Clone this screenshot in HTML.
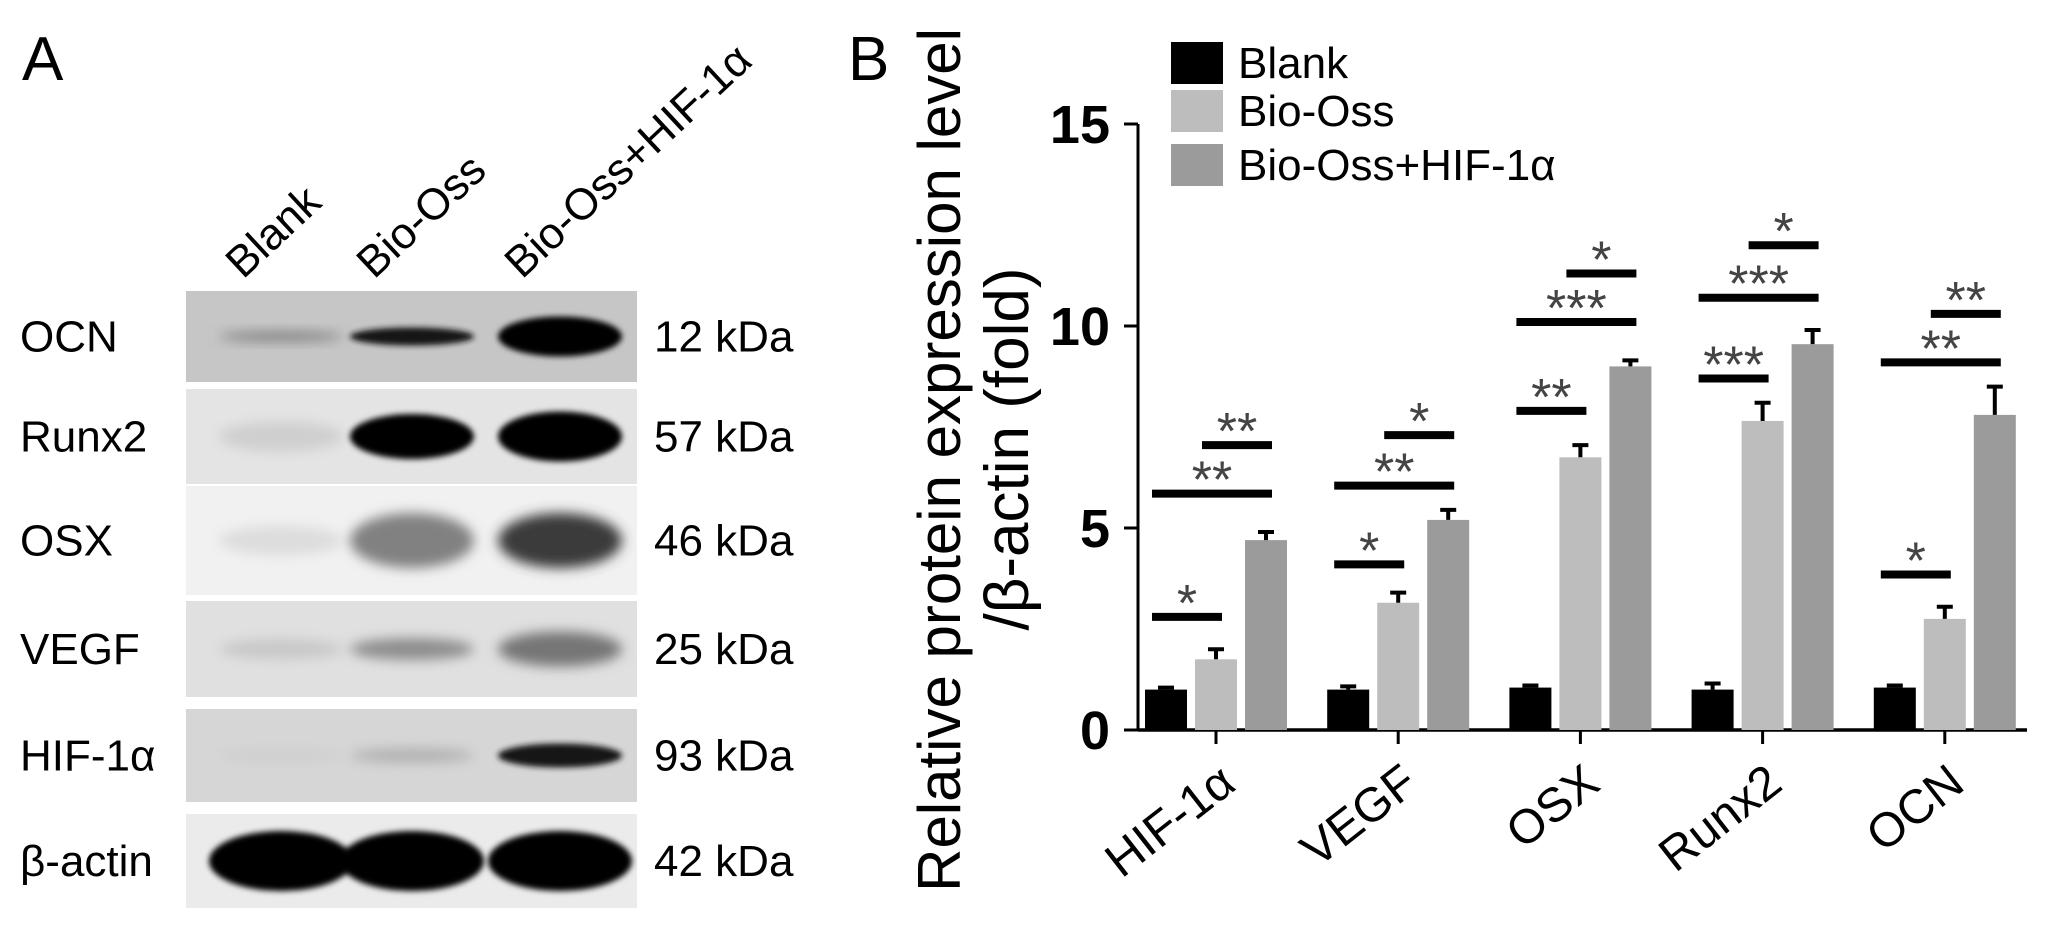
<!DOCTYPE html>
<html><head><meta charset="utf-8"><style>
html,body{margin:0;padding:0;background:#fff;}
svg{display:block;font-family:"Liberation Sans",Arial,sans-serif;}
</style></head><body>
<svg id="fig" width="2051" height="942" viewBox="0 0 2051 942" xmlns="http://www.w3.org/2000/svg">
<defs>
<filter id="blur" x="-30%" y="-80%" width="160%" height="260%"><feGaussianBlur stdDeviation="6"/></filter>
<filter id="blur2" x="-30%" y="-80%" width="160%" height="260%"><feGaussianBlur stdDeviation="3"/></filter>
</defs>
<text x="22" y="80" font-size="62">A</text>
<text x="848" y="80" font-size="62">B</text>
<g id="panelA"></g>
<g id="chart"></g>
</svg>
<script>
const NS="http://www.w3.org/2000/svg";
function mk(parent,tag,attrs,txt){const e=document.createElementNS(NS,tag);for(const k in attrs)e.setAttribute(k,attrs[k]);if(txt!==undefined)e.textContent=txt;parent.appendChild(e);return e;}

// ---------- Panel A (western blot) ----------
const lanes=["Blank","Bio-Oss","Bio-Oss+HIF-1α"];
const proteins=["OCN","Runx2","OSX","VEGF","HIF-1α","β-actin"];
const kdas=["12 kDa","57 kDa","46 kDa","25 kDa","93 kDa","42 kDa"];
const bandIntensity=[[0.35,0.9,1],[0.12,1,1],[0.06,0.45,0.75],[0.15,0.4,0.5],[0.12,0.25,0.9],[1,1,1]];
const bandHeight=[[10,18,40],[30,45,50],[30,55,55],[20,22,35],[14,14,24],[60,60,60]];
const rowTop=[291,389,486,601,709,814];
const rowBot=[382,484,595,697,802,908];
const rowBg=["#c6c6c6","#e4e4e4","#f1f1f1","#e0e0e0","#d6d6d6","#ebebeb"];
const laneX=[281,412,560];
const A=document.getElementById('panelA');
lanes.forEach((l,i)=>{
  const t=mk(A,'text',{x:laneX[i]-38,y:280,'font-size':44,transform:`rotate(-43 ${laneX[i]-38} 280)`},l);
  
  
});
proteins.forEach((p,r)=>{
  const cy=(rowTop[r]+rowBot[r])/2;
  const bg=mk(A,'rect',{x:186,y:rowTop[r],width:451,height:rowBot[r]-rowTop[r],fill:rowBg[r]});
  
  
  laneX.forEach((lx,i)=>{
    const v=bandIntensity[r][i];
    const g=Math.round(rowBg[r]==="#c6c6c6"?198*(1-v):235*(1-v));
    const b=mk(A,'ellipse',{cx:lx,cy:cy,rx:r===5?72:62,ry:bandHeight[r][i]/2,fill:`rgb(${g},${g},${g})`,filter:v>0.8?'url(#blur2)':'url(#blur)'});
    
    
  });
  const lt=mk(A,'text',{x:20,y:cy+15,'font-size':44},p);
  
  
  const kt=mk(A,'text',{x:654,y:cy+15,'font-size':44},kdas[r]);
  
  
});

// ---------- Panel B (bar chart) ----------
const categories=["HIF-1α","VEGF","OSX","Runx2","OCN"];
const seriesNames=["Blank","Bio-Oss","Bio-Oss+HIF-1α"];
const blankVals=[1.0,1.0,1.05,1.0,1.05];
const bioOssVals=[1.75,3.15,6.75,7.65,2.75];
const hifVals=[4.7,5.2,9.0,9.55,7.8];
const blankErr=[0.05,0.08,0.05,0.15,0.05];
const bioOssErr=[0.25,0.25,0.3,0.45,0.3];
const hifErr=[0.2,0.25,0.15,0.35,0.7];
const yTicks=[0,5,10,15];
// significance: [category, fromSeries, toSeries, y, label]
const sigCat=[0,0,0,1,1,1,2,2,2,3,3,3,4,4,4];
const sigFrom=[0,0,1,0,0,1,0,0,1,0,0,1,0,0,1];
const sigTo=[1,2,2,1,2,2,1,2,2,1,2,2,1,2,2];
const sigY=[2.8,5.85,7.05,4.1,6.05,7.3,7.9,10.1,11.3,8.7,10.7,12.0,3.85,9.1,10.3];
const sigLabel=["*","**","**","*","**","*","**","***","*","***","***","*","*","**","**"];
const colors=["#000000","#bdbdbd","#9b9b9b"];
const series=[blankVals,bioOssVals,hifVals];
const errs=[blankErr,bioOssErr,hifErr];

const x0=1138,x1=2027,y0=730,yTop=124,vmax=15;
const yS=v=>y0-(v/vmax)*(y0-yTop);
const groupX=i=>1216+i*182.2;
const barW=42,barStep=50;
const barX=(i,s)=>groupX(i)+(s-1)*barStep;
const C=document.getElementById('chart');

// axes
const ya=mk(C,'line',{x1:x0,y1:yS(vmax),x2:x0,y2:y0,stroke:'#000','stroke-width':3});


const xa=mk(C,'line',{x1:x0,y1:y0,x2:x1,y2:y0,stroke:'#000','stroke-width':3.5});


yTicks.forEach(t=>{
  const tl=mk(C,'line',{x1:x0-14,y1:yS(t),x2:x0,y2:yS(t),stroke:'#000','stroke-width':3});
  
  
  const tt=mk(C,'text',{x:x0-28,y:yS(t)+19,'font-size':54,'font-weight':'bold','text-anchor':'end'},String(t));
  
  
});
// y title
const yt1=mk(C,'text',{x:0,y:0,'font-size':60,'text-anchor':'middle',transform:'translate(960 460) rotate(-90)'},"Relative  protein expression level");


const yt2=mk(C,'text',{x:0,y:0,'font-size':62,'text-anchor':'middle',transform:'translate(1028 449) rotate(-90)'},"/β-actin (fold)");



// bars
categories.forEach((c,i)=>{
  series.forEach((vals,s)=>{
    const v=vals[i],e=errs[s][i];
    const bx=barX(i,s);
    const r=mk(C,'rect',{x:bx-barW/2,y:yS(v),width:barW,height:y0-yS(v),fill:colors[s]});
    
    
    const eb=mk(C,'path',{d:`M${bx} ${yS(v)} V${yS(v+e)} M${bx-8} ${yS(v+e)} H${bx+8}`,stroke:'#000','stroke-width':4,fill:'none'});
    
    
  });
  const tk=mk(C,'line',{x1:groupX(i),y1:y0,x2:groupX(i),y2:y0+14,stroke:'#000','stroke-width':3});
  
  
  const xl=mk(C,'text',{x:0,y:0,'font-size':48,'text-anchor':'end',transform:`translate(${groupX(i)+22} 788) rotate(-38)`},c);
  
  
});

// significance
sigLabel.forEach((lab,k)=>{
  const i=sigCat[k];
  const xa_=barX(i,sigFrom[k])-14, xb=barX(i,sigTo[k])+6;
  const y=yS(sigY[k]);
  const l=mk(C,'line',{x1:xa_,y1:y,x2:xb,y2:y,stroke:'#000','stroke-width':8});
  
  
  const t=mk(C,'text',{x:(xa_+xb)/2,y:y+4,'font-size':52,fill:'#444','text-anchor':'middle'},lab);
  
  
});

// legend
const legY=[42,90,144];
seriesNames.forEach((n,s)=>{
  const r=mk(C,'rect',{x:1171,y:legY[s],width:52,height:42,fill:colors[s]});
  
  
  const t=mk(C,'text',{x:1238,y:legY[s]+36,'font-size':44},n);
  
  
});
</script>
</body></html>
